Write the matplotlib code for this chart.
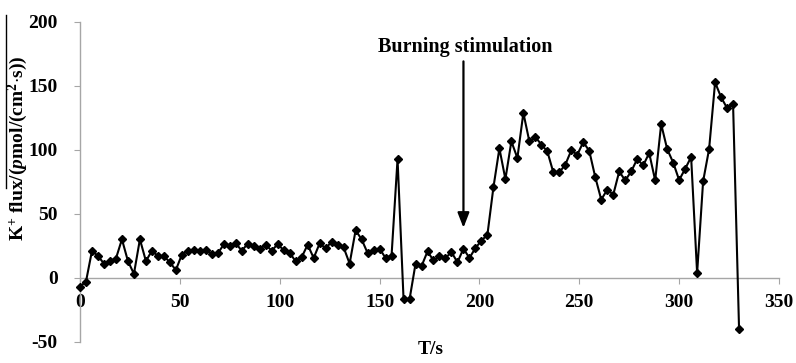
import matplotlib
matplotlib.use("Agg")
import matplotlib.pyplot as plt
from matplotlib.lines import Line2D

time_s = [0, 3, 6, 9, 12, 15, 18, 21, 24, 27,
          30, 33, 36, 39, 42, 45, 48, 51, 54, 57,
          60, 63, 66, 69, 72, 75, 78, 81, 84, 87,
          90, 93, 96, 99, 102, 105, 108, 111, 114, 117,
          120, 123, 126, 129, 132, 135, 138, 141, 144, 147,
          150, 153, 156, 159, 162, 165, 168, 171, 174, 177,
          180, 183, 186, 189, 192, 195, 198, 201, 204, 207,
          210, 213, 216, 219, 222, 225, 228, 231, 234, 237,
          240, 243, 246, 249, 252, 255, 258, 261, 264, 267,
          270, 273, 276, 279, 282, 285, 288, 291, 294, 297,
          300, 303, 306, 309, 312, 315, 318, 321, 324, 327,
          330]

k_flux = [-7, -3, 21, 17, 11, 13, 15, 30, 13, 3,
          30, 13, 21, 17, 17, 12, 6, 18, 21, 22,
          21, 22, 18.5, 19, 26, 24.5, 27, 21, 26.6, 25,
          22.4, 25.8, 21, 26.3, 21.4, 19.3, 12.8, 16, 25.8, 15.4,
          26.8, 23, 28, 25.3, 23.7, 11, 37, 30, 19.3, 21.9,
          22.7, 15.4, 17.2, 92.7, -16.5, -17, 10.8, 9, 20.5, 13.5,
          16.7, 15.4, 20, 12, 22.7, 15.4, 23.2, 28.9, 33.6, 70.5,
          101, 77, 106.5, 93.5, 128.7, 106.5, 110, 104, 98.7, 82.3,
          82.3, 88.3, 99.5, 96, 106, 99, 78.6, 61, 68.8, 64.8,
          83, 76, 83, 92.7, 87.7, 97.4, 76, 120, 100.5, 90,
          76.3, 85, 94.3, 3.6, 75.3, 100.5, 152.6, 141, 132.5, 135.7,
          -40]

x_ticks = [0, 50, 100, 150, 200, 250, 300, 350]
y_ticks = [-50, 0, 50, 100, 150, 200]
annot_text = "Burning stimulation"
annot_x = 192
annot_top = 169
annot_tip = 39

SERIF = "Liberation Serif"
plt.rcParams["font.family"] = SERIF
plt.rcParams["axes.unicode_minus"] = False
plt.rcParams["mathtext.fontset"] = "custom"
plt.rcParams["mathtext.rm"] = "Liberation Serif:bold"
plt.rcParams["mathtext.it"] = "Liberation Serif:bold:italic"
plt.rcParams["mathtext.bf"] = "Liberation Serif:bold"

W, H = 796, 363
fig = plt.figure(figsize=(W / 100, H / 100), dpi=100)
ax = fig.add_axes([80 / W, 1 - 341.7 / H, (779 - 80) / W, (341.7 - 21.7) / H])

ax.plot(time_s, k_flux, color="black", lw=1.5, marker="D", markersize=4.5,
        markerfacecolor="black", markeredgecolor="black", clip_on=False, zorder=3)

ax.set_xlim(0, 350)
ax.set_ylim(-50, 200)
ax.set_xticks(x_ticks)
ax.set_yticks(y_ticks)

grey = "#a6a6a6"
for s in ("top", "right"):
    ax.spines[s].set_visible(False)
ax.spines["bottom"].set_position(("data", 0))
ax.spines["bottom"].set_color(grey)
ax.spines["left"].set_color(grey)
ax.spines["bottom"].set_linewidth(1.0)
ax.spines["left"].set_linewidth(1.0)
ax.tick_params(axis="x", direction="out", length=4, color=grey, pad=8)
ax.tick_params(axis="y", direction="out", length=4, color=grey, pad=12)
for lab in ax.get_xticklabels() + ax.get_yticklabels():
    lab.set_fontweight("bold")
    lab.set_fontsize(14)
    lab.set_fontfamily(SERIF)

fig.text(431 / W, 1 - 349 / H, "T/s", ha="center", va="center",
         fontsize=14, fontweight="bold")

ax.annotate("", xy=(annot_x, annot_tip), xytext=(annot_x, annot_top),
            arrowprops=dict(arrowstyle="-|>,head_length=0.9,head_width=0.35",
                            color="black", lw=1.6, shrinkA=0, shrinkB=0))
ax.text(annot_x + 1, 180.5, annot_text, ha="center", va="center",
        fontsize=14.5, fontweight="bold")

fig.text(18 / W, 1 - 148 / H, r"K$^{+}$ flux/($\mathit{p}$mol/(cm$^{2}$$\cdot$s))",
         rotation=90, ha="center", va="center", fontsize=14, fontweight="bold")
fig.add_artist(Line2D([6 / W, 6 / W], [1 - 15 / H, 1 - 188 / H],
                      transform=fig.transFigure, color="black", lw=1.0))

fig.savefig("out.png", dpi=100)
